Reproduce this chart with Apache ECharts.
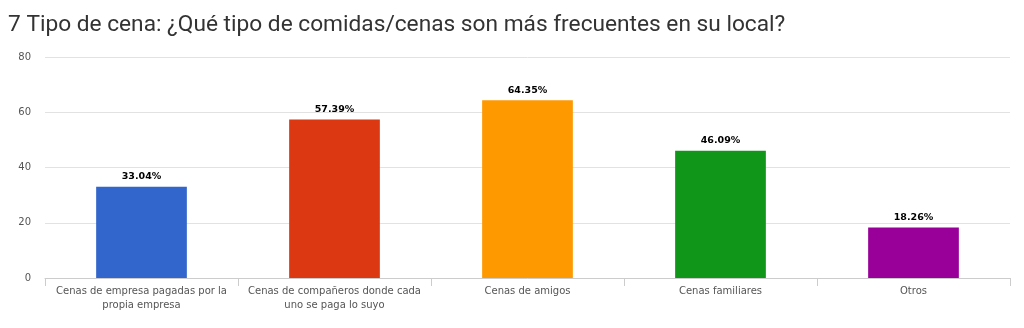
<!DOCTYPE html>
<html><head><meta charset="utf-8">
<script src="https://cdn.jsdelivr.net/npm/echarts@6/dist/echarts.min.js"></script>
<style>html,body{margin:0;padding:0;background:#fff}#c{width:1024px;height:328px}</style>
</head><body><div id="c"></div>
<script>
const titleText = "7 Tipo de cena: ¿Qué tipo de comidas/cenas son más frecuentes en su local?";
const categories = ["Cenas de empresa pagadas por la\npropia empresa", "Cenas de compañeros donde cada\nuno se paga lo suyo", "Cenas de amigos", "Cenas familiares", "Otros"];
const values = [33.04, 57.39, 64.35, 46.09, 18.26];
const colors = ["#3366cc", "#dc3912", "#ff9900", "#109618", "#990099"];
const yTicks = [0, 20, 40, 60, 80];

const chart = echarts.init(document.getElementById('c'), null, {renderer: 'canvas'});
chart.setOption({
  animation: false,
  title: {text: titleText, left: 3, top: 9, textStyle: {fontFamily: 'Roboto', fontWeight: 'normal', fontSize: 22.7, color: '#333'}},
  grid: {left: 45, right: 14, top: 57, bottom: 50, containLabel: false},
  xAxis: {
    type: 'category', data: categories,
    axisLine: {lineStyle: {color: '#ccc'}},
    axisTick: {show: true, length: 8, lineStyle: {color: '#ccc'}},
    axisLabel: {color: '#555', fontFamily: 'DejaVu Sans', fontSize: 10, lineHeight: 14, margin: 6, interval: 0}
  },
  yAxis: {
    type: 'value', min: yTicks[0], max: yTicks[yTicks.length-1], interval: 20,
    axisLine: {show: false}, axisTick: {show: false},
    splitLine: {lineStyle: {color: '#e2e2e2'}},
    axisLabel: {color: '#555', fontFamily: 'DejaVu Sans', fontSize: 10, margin: 14}
  },
  series: [{
    type: 'bar', barWidth: '47%',
    data: values.map((v, i) => ({value: v, itemStyle: {color: colors[i]}})),
    label: {show: true, position: 'top', distance: 5, formatter: p => p.value.toFixed(2) + '%', color: '#000', fontFamily: 'DejaVu Sans', fontWeight: 'bold', fontSize: 9.5}
  }]
});
</script></body></html>
